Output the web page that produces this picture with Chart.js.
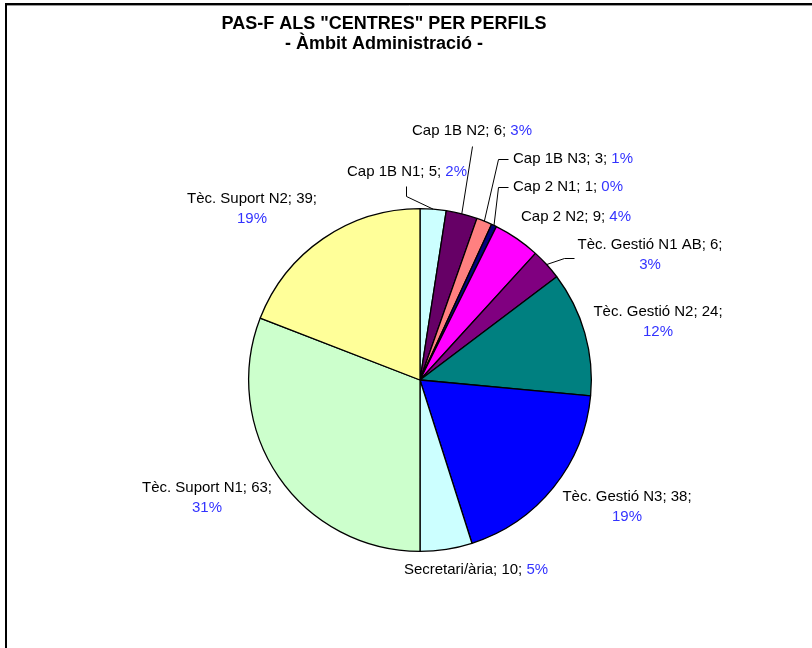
<!DOCTYPE html>
<html>
<head>
<meta charset="utf-8">
<script src="https://cdn.jsdelivr.net/npm/chart.js@4/dist/chart.umd.min.js"></script>
<style>
  body { margin: 0; background: #fff; }
  canvas { display: block; }
</style>
</head>
<body>
<canvas id="perfilsChart" width="812" height="648"></canvas>
<script>
// Dades del gràfic
const profiles = ['Cap 1B N1', 'Cap 1B N2', 'Cap 1B N3', 'Cap 2 N1', 'Cap 2 N2', 'Tèc. Gestió N1 AB',
    'Tèc. Gestió N2', 'Tèc. Gestió N3', 'Secretari/ària', 'Tèc. Suport N1', 'Tèc. Suport N2'];
const counts = [5, 6, 3, 1, 9, 6, 24, 38, 10, 63, 39];
const titleLines = ['PAS-F ALS "CENTRES" PER PERFILS', '- Àmbit Administració -'];

const sliceColors = ['#CCFFFF', '#660066', '#FF8080', '#000080', '#FF00FF', '#800080',
    '#008080', '#0000FF', '#CCFFFF', '#CCFFCC', '#FFFF99'];

// posicio de cada etiqueta (centre del text) i punts de la linia guia
const labelLayout = [
    { x: 407, y: 172, leader: [[406, 186], [406, 196]] },
    { x: 472, y: 131, leader: [[472, 146]] },
    { x: 573, y: 159, leader: [[508, 159], [498, 159]] },
    { x: 568, y: 187, leader: [[508, 187], [498, 187]] },
    { x: 576, y: 217 },
    { x: 650, y: 245, wrap: true, leader: [[574, 258], [564, 258]] },
    { x: 658, y: 312, wrap: true },
    { x: 627, y: 497, wrap: true },
    { x: 476, y: 570 },
    { x: 207, y: 488, wrap: true },
    { x: 252, y: 199, wrap: true }
];

const total = counts.reduce((a, b) => a + b, 0);
const FONT = '15px "Liberation Sans", Arial, sans-serif';

const labelsPlugin = {
    id: 'labelsPlugin',
    afterDraw(chart) {
        const ctx = chart.ctx;
        ctx.save();

        // marc
        ctx.strokeStyle = '#000';
        ctx.lineWidth = 2;
        ctx.beginPath();
        ctx.moveTo(6, 648);
        ctx.lineTo(6, 4);
        ctx.lineTo(812, 4);
        ctx.stroke();
        ctx.strokeStyle = '#999';
        ctx.lineWidth = 1;
        ctx.beginPath();
        ctx.moveTo(7, 5.5);
        ctx.lineTo(812, 5.5);
        ctx.stroke();

        // titol
        ctx.fillStyle = '#000';
        ctx.textAlign = 'center';
        ctx.textBaseline = 'middle';
        ctx.font = 'bold 18px "Liberation Sans", Arial, sans-serif';
        ctx.fillText(titleLines[0], 384, 24);
        ctx.fillText(titleLines[1], 384, 44);

        // etiquetes
        const arcs = chart.getDatasetMeta(0).data;
        ctx.font = FONT;
        ctx.textAlign = 'left';
        arcs.forEach((arc, i) => {
            const lay = labelLayout[i];
            const pct = Math.round(counts[i] / total * 100) + '%';
            const head = profiles[i] + '; ' + counts[i] + ';';

            if (lay.leader) {
                const mid = (arc.startAngle + arc.endAngle) / 2;
                const ex = arc.x + Math.cos(mid) * arc.outerRadius;
                const ey = arc.y + Math.sin(mid) * arc.outerRadius;
                ctx.strokeStyle = '#000';
                ctx.lineWidth = 1;
                ctx.beginPath();
                lay.leader.forEach((p, k) => {
                    if (k === 0) ctx.moveTo(p[0] + 0.5, p[1] + 0.5);
                    else ctx.lineTo(p[0] + 0.5, p[1] + 0.5);
                });
                ctx.lineTo(ex, ey);
                ctx.stroke();
            }

            if (lay.wrap) {
                const w1 = ctx.measureText(head).width;
                ctx.fillStyle = '#000';
                ctx.fillText(head, lay.x - w1 / 2, lay.y);
                const w2 = ctx.measureText(pct).width;
                ctx.fillStyle = '#3333FF';
                ctx.fillText(pct, lay.x - w2 / 2, lay.y + 20);
            } else {
                const first = head + ' ';
                const w1 = ctx.measureText(first).width;
                const w = w1 + ctx.measureText(pct).width;
                const x0 = lay.x - w / 2;
                ctx.fillStyle = '#000';
                ctx.fillText(first, x0, lay.y);
                ctx.fillStyle = '#3333FF';
                ctx.fillText(pct, x0 + w1, lay.y);
            }
        });
        ctx.restore();
    }
};

const ctx = document.getElementById('perfilsChart').getContext('2d');
const perfilsChart = new Chart(ctx, {
    type: 'pie',
    data: {
        labels: profiles,
        datasets: [{
            data: counts,
            backgroundColor: sliceColors,
            borderColor: '#000',
            borderWidth: 1.3
        }]
    },
    options: {
        responsive: false,
        animation: false,
        layout: {
            padding: { left: 248, right: 220, top: 208, bottom: 96 }
        },
        plugins: {
            legend: { display: false },
            tooltip: { enabled: false }
        }
    },
    plugins: [labelsPlugin]
});
</script>
</body>
</html>
